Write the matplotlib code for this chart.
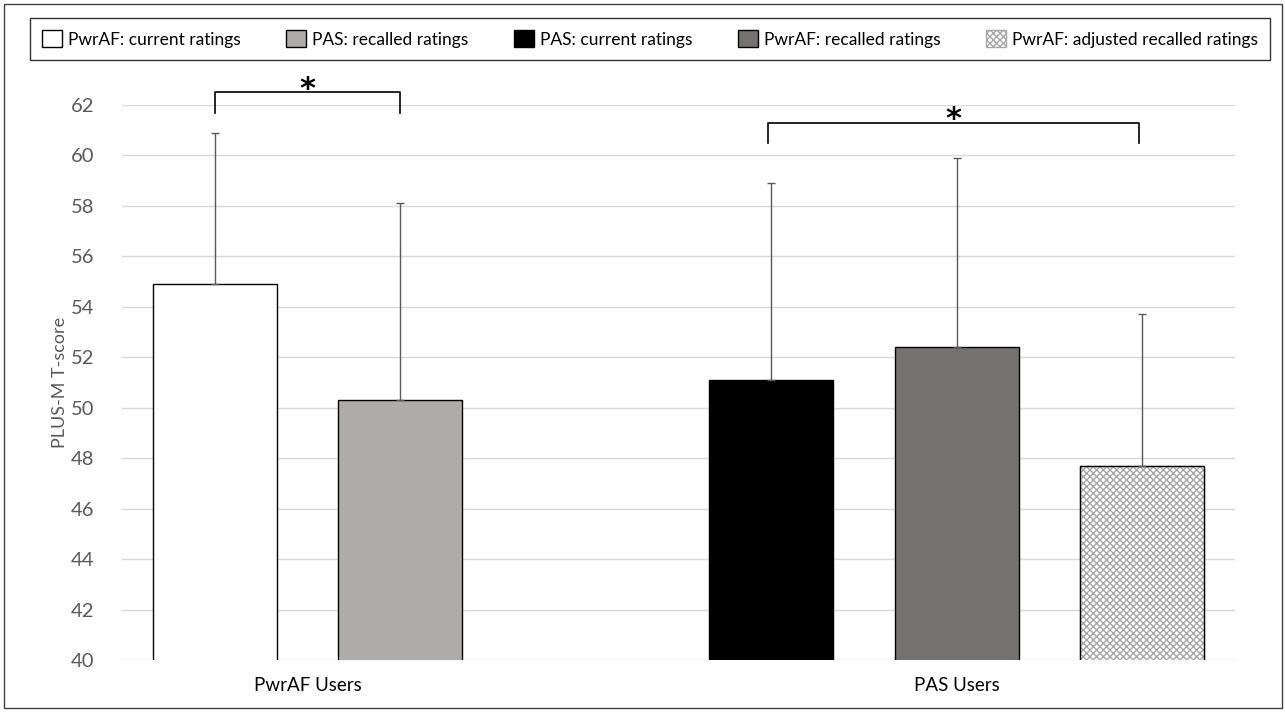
import matplotlib
matplotlib.use("Agg")
import matplotlib.pyplot as plt
from matplotlib.patches import Patch, Rectangle

plt.rcParams['font.family'] = ['Lato', 'DejaVu Sans']
plt.rcParams['hatch.linewidth'] = 1.0

# data
labels = ["PwrAF: current ratings", "PAS: recalled ratings", "PAS: current ratings",
          "PwrAF: recalled ratings", "PwrAF: adjusted recalled ratings"]
means = [54.9, 50.3, 51.1, 52.4, 47.7]
sds = [6.0, 7.8, 7.8, 7.5, 6.0]
groups = ["PwrAF Users", "PAS Users"]
yticks = [40, 42, 44, 46, 48, 50, 52, 54, 56, 58, 60, 62]

xpos = [0.5, 1.5, 3.5, 4.5, 5.5]
group_x = [1.0, 4.5]
colors = ["white", "#AFABAB", "black", "#767171", "white"]
hatches = [None, None, None, None, "xxxxx"]

fig = plt.figure(figsize=(12.85, 7.12), dpi=100)
ax = fig.add_axes([122/1285, 1 - 660/712, 1113/1285, 555/712])

for i in range(5):
    ax.bar(xpos[i], means[i], width=0.67, bottom=0, color=colors[i], edgecolor="black",
           linewidth=1.0, zorder=3, hatch=hatches[i])
    ax.errorbar(xpos[i], means[i], yerr=[[0], [sds[i]]], fmt="none", ecolor="#595959",
                elinewidth=1.0, capsize=3, capthick=1.0, zorder=4)
# hatch colour for the adjusted bar
ax.patches[4].set_edgecolor("#A6A6A6")
ax.bar(xpos[4], means[4], width=0.67, color="none", edgecolor="black", linewidth=1.0, zorder=3.5)

ax.set_ylim(40, 62)
ax.set_xlim(0, 6)
ax.set_yticks(yticks)
ax.set_xticks(group_x)
ax.set_xticklabels(groups, fontsize=13)
ax.tick_params(axis="both", length=0, labelsize=14.5, colors="#595959")
ax.tick_params(axis="x", colors="black", labelsize=13.5, pad=12)
ax.tick_params(axis="y", pad=20)
ax.grid(axis="y", color="#D9D9D9", linewidth=1.0, zorder=0)
for s in ax.spines.values():
    s.set_visible(False)
ax.set_ylabel("PLUS-M T-score", fontsize=13, color="#595959", labelpad=2)

# significance brackets
def bracket(x1, x2, top, leg):
    ax.plot([x1, x1, x2, x2], [leg, top, top, leg], color="black", linewidth=1.2,
            clip_on=False, zorder=5)
    ax.text((x1 + x2) / 2, top + 0.12, "*", ha="center", va="center", fontsize=22,
            fontweight="bold", family="DejaVu Sans", clip_on=False)

bracket(xpos[0], xpos[1], 62.5, 61.7)
bracket(3.48, 5.48, 61.3, 60.5)

handles = []
for i in range(5):
    h = Patch(facecolor=colors[i], edgecolor="black", linewidth=1.0, hatch=hatches[i])
    handles.append(h)
handles[4] = Patch(facecolor="white", edgecolor="#A6A6A6", hatch="xxxxx")
leg = fig.legend(handles, labels, loc="center", ncol=5, fontsize=12.5,
                 bbox_to_anchor=(30/1285, 1 - 62/712, 1240/1285, 46/712), mode="expand",
                 frameon=True, fancybox=False, edgecolor="black", handlelength=1.15,
                 handleheight=1.15, handletextpad=0.35, borderaxespad=0, borderpad=0.7)
leg.get_frame().set_linewidth(1.0)

fig.patches.append(Rectangle((4/1285, 4/712), 1278/1285, 704/712, transform=fig.transFigure,
                             fill=False, edgecolor="#404040", linewidth=1.0))

fig.savefig("out.png", dpi=100)
